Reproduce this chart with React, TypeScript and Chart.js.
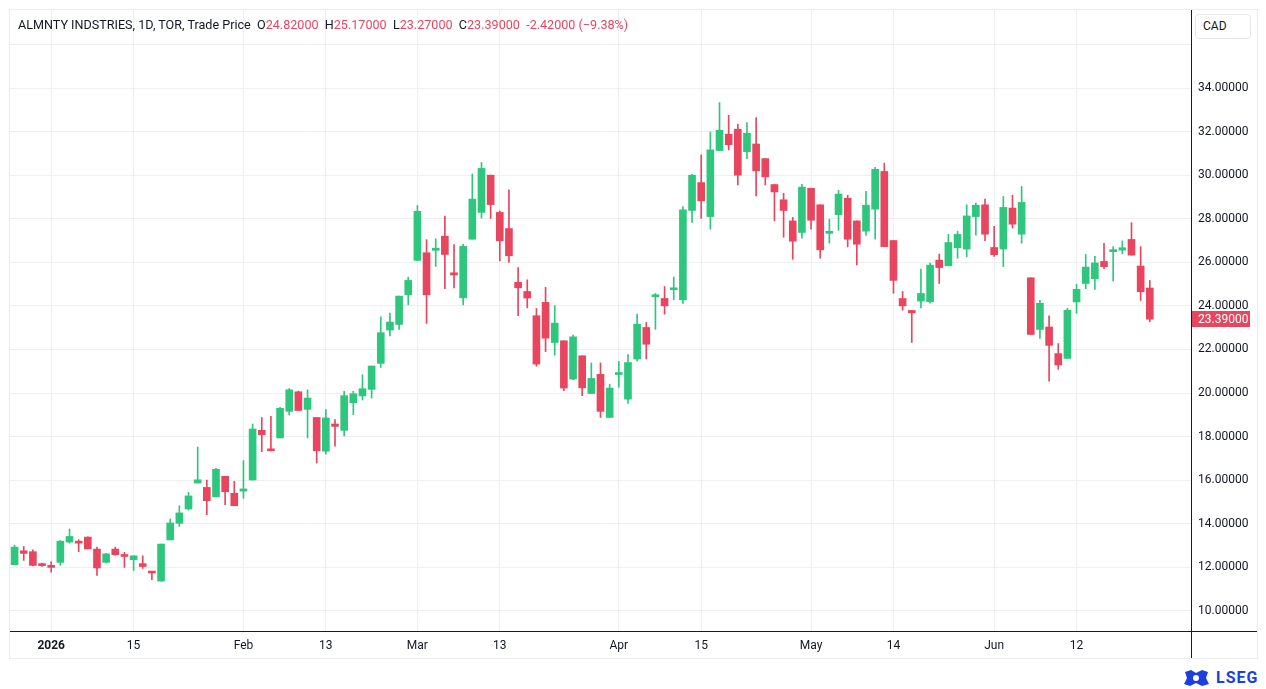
import { useEffect, useRef } from 'react';
import { Chart, registerables } from 'chart.js';

Chart.register(...registerables);

// trading days (TSX), Dec 24 2025 .. Jun 24 2026
const dates = [
  '2025-12-24', '2025-12-29', '2025-12-30', '2025-12-31',
  '2026-01-02', '2026-01-05', '2026-01-06', '2026-01-07', '2026-01-08', '2026-01-09',
  '2026-01-12', '2026-01-13', '2026-01-14', '2026-01-15', '2026-01-16',
  '2026-01-19', '2026-01-20', '2026-01-21', '2026-01-22', '2026-01-23',
  '2026-01-26', '2026-01-27', '2026-01-28', '2026-01-29', '2026-01-30',
  '2026-02-02', '2026-02-03', '2026-02-04', '2026-02-05', '2026-02-06',
  '2026-02-09', '2026-02-10', '2026-02-11', '2026-02-12', '2026-02-13',
  '2026-02-17', '2026-02-18', '2026-02-19', '2026-02-20',
  '2026-02-23', '2026-02-24', '2026-02-25', '2026-02-26', '2026-02-27',
  '2026-03-02', '2026-03-03', '2026-03-04', '2026-03-05', '2026-03-06',
  '2026-03-09', '2026-03-10', '2026-03-11', '2026-03-12', '2026-03-13',
  '2026-03-16', '2026-03-17', '2026-03-18', '2026-03-19', '2026-03-20',
  '2026-03-23', '2026-03-24', '2026-03-25', '2026-03-26', '2026-03-27',
  '2026-03-30', '2026-03-31',
  '2026-04-01', '2026-04-02', '2026-04-06', '2026-04-07', '2026-04-08', '2026-04-09', '2026-04-10',
  '2026-04-13', '2026-04-14', '2026-04-15', '2026-04-16', '2026-04-17',
  '2026-04-20', '2026-04-21', '2026-04-22', '2026-04-23', '2026-04-24',
  '2026-04-27', '2026-04-28', '2026-04-29', '2026-04-30',
  '2026-05-01', '2026-05-04', '2026-05-05', '2026-05-06', '2026-05-07', '2026-05-08',
  '2026-05-11', '2026-05-12', '2026-05-13', '2026-05-14', '2026-05-15',
  '2026-05-19', '2026-05-20', '2026-05-21', '2026-05-22',
  '2026-05-25', '2026-05-26', '2026-05-27', '2026-05-28', '2026-05-29',
  '2026-06-01', '2026-06-02', '2026-06-03', '2026-06-04', '2026-06-05',
  '2026-06-08', '2026-06-09', '2026-06-10', '2026-06-11', '2026-06-12',
  '2026-06-15', '2026-06-16', '2026-06-17', '2026-06-18', '2026-06-19',
  '2026-06-22', '2026-06-23', '2026-06-24',
];

// empty slots to the right of the last bar
const rightSpace = ['', '', '', ''];

const open = [
  12.12, 12.76, 12.72, 12.12, 12.05, 12.23, 13.16, 13.19, 13.39, 12.84,
  12.23, 12.84, 12.55, 12.35, 12.17, 11.80, 11.37, 13.26, 14.02, 14.68,
  15.87, 15.67, 15.24, 16.18, 15.40, 15.50, 16.01, 18.29, 17.42, 17.94,
  19.16, 20.06, 19.25, 18.88, 17.33, 18.58, 18.29, 19.56, 19.87, 20.17,
  21.36, 22.89, 23.15, 24.51, 26.09, 26.44, 26.55, 27.20, 25.52, 24.37,
  27.06, 28.29, 30.00, 28.29, 27.55, 25.08, 24.66, 23.55, 24.16, 22.32,
  22.40, 20.64, 21.71, 19.98, 20.86, 18.88, 20.85, 19.72, 21.56, 23.01,
  24.42, 24.34, 24.74, 24.28, 28.38, 29.66, 28.10, 31.13, 31.88, 32.11,
  31.08, 31.43, 30.76, 29.57, 28.87, 27.90, 27.37, 29.40, 28.64, 27.33,
  28.19, 28.94, 27.90, 27.43, 28.44, 30.17, 27.00, 24.34, 23.79, 24.22,
  24.19, 26.10, 25.84, 26.67, 26.61, 28.10, 28.64, 26.68, 26.61, 28.49,
  27.29, 25.29, 22.92, 23.03, 21.81, 21.59, 24.18, 25.03, 25.25, 26.04,
  26.49, 26.56, 27.05, 25.83, 24.82,
];

const high = [
  13.02, 12.96, 12.81, 12.20, 12.26, 13.23, 13.76, 13.27, 13.40, 12.93,
  12.65, 12.93, 12.69, 12.53, 12.53, 11.80, 13.07, 14.22, 14.83, 15.44,
  17.52, 16.01, 16.55, 16.18, 15.95, 16.90, 18.58, 18.88, 18.93, 19.34,
  20.21, 20.09, 20.15, 18.88, 19.24, 18.78, 20.08, 20.08, 20.84, 21.24,
  23.50, 23.67, 24.45, 25.32, 28.61, 27.04, 27.08, 28.12, 26.81, 26.83,
  30.05, 30.58, 30.00, 28.36, 29.33, 25.76, 25.20, 23.88, 24.85, 24.01,
  22.40, 22.66, 21.71, 21.38, 21.38, 20.41, 21.45, 21.77, 23.62, 23.24,
  24.57, 24.89, 25.33, 28.56, 30.04, 30.93, 31.98, 33.33, 32.75, 32.34,
  32.41, 32.64, 30.76, 29.57, 29.17, 28.06, 29.58, 29.40, 28.64, 27.98,
  29.31, 29.08, 27.90, 29.26, 30.36, 30.55, 27.00, 24.66, 23.79, 25.69,
  25.96, 26.38, 27.28, 27.43, 28.64, 28.72, 28.90, 27.65, 29.02, 29.08,
  29.48, 25.29, 24.25, 23.54, 22.27, 23.89, 24.99, 26.36, 26.27, 26.87,
  26.72, 26.99, 27.82, 26.72, 25.17,
];

const low = [
  12.12, 12.32, 12.07, 12.04, 11.78, 12.09, 13.11, 12.72, 12.85, 11.63,
  12.20, 12.56, 12.00, 11.86, 11.95, 11.43, 11.37, 13.26, 13.88, 14.63,
  15.87, 14.42, 15.24, 14.88, 14.83, 15.17, 16.01, 17.31, 17.35, 17.94,
  18.99, 19.20, 17.94, 16.79, 17.19, 17.56, 18.03, 19.01, 19.68, 19.77,
  21.18, 22.62, 22.92, 24.05, 26.09, 23.20, 25.81, 24.79, 24.82, 24.05,
  27.06, 28.03, 28.01, 26.07, 26.00, 23.55, 23.91, 21.23, 21.90, 21.74,
  20.11, 20.61, 19.88, 19.98, 18.88, 18.88, 20.26, 19.52, 21.48, 21.56,
  22.93, 23.62, 24.28, 24.11, 27.83, 28.02, 27.52, 31.13, 31.16, 29.55,
  30.76, 29.05, 29.55, 27.90, 27.15, 26.14, 27.11, 27.52, 26.19, 26.88,
  27.47, 26.71, 25.88, 27.24, 27.06, 26.72, 24.58, 23.80, 22.32, 23.91,
  24.13, 25.03, 25.84, 26.19, 26.25, 27.25, 26.99, 26.27, 25.80, 27.57,
  26.88, 22.69, 22.51, 20.55, 21.09, 21.59, 23.66, 24.79, 24.76, 25.71,
  25.14, 26.39, 26.33, 24.25, 23.27,
];

const close = [
  12.93, 12.64, 12.09, 12.08, 12.00, 13.20, 13.42, 13.11, 12.85, 11.97,
  12.62, 12.58, 12.50, 12.53, 12.04, 11.74, 13.07, 14.04, 14.50, 15.28,
  16.02, 15.06, 16.50, 15.47, 14.83, 15.60, 18.35, 18.09, 17.35, 19.30,
  20.15, 19.20, 19.77, 17.35, 18.86, 18.47, 19.88, 19.97, 20.20, 21.24,
  22.77, 23.26, 24.45, 25.17, 28.34, 24.51, 26.65, 26.36, 25.42, 26.73,
  28.90, 30.31, 28.65, 26.99, 26.30, 24.83, 24.36, 21.33, 22.52, 23.21,
  20.23, 22.58, 20.24, 20.67, 19.16, 20.23, 20.90, 21.40, 23.16, 22.24,
  24.47, 24.00, 24.81, 28.41, 30.00, 28.82, 31.16, 32.06, 31.40, 30.00,
  31.92, 30.20, 29.92, 29.23, 28.38, 26.97, 29.45, 27.93, 26.57, 27.36,
  29.13, 27.06, 26.83, 28.62, 30.27, 26.72, 25.17, 24.00, 23.68, 24.57,
  25.87, 25.76, 26.91, 27.28, 28.13, 28.62, 27.29, 26.35, 28.52, 27.75,
  28.75, 22.69, 24.12, 22.19, 21.29, 23.80, 24.76, 25.78, 25.97, 25.80,
  26.51, 26.67, 26.33, 24.65, 23.39,
];

// x-axis labels: [date, label]
const xTicks = [
  ['2026-01-02', '2026'], ['2026-01-15', '15'], ['2026-02-02', 'Feb'], ['2026-02-13', '13'],
  ['2026-03-02', 'Mar'], ['2026-03-13', '13'], ['2026-04-01', 'Apr'], ['2026-04-15', '15'],
  ['2026-05-01', 'May'], ['2026-05-14', '14'], ['2026-06-01', 'Jun'], ['2026-06-12', '12'],
];

const yTicks = [10, 12, 14, 16, 18, 20, 22, 24, 26, 28, 30, 32, 34, 36];

const title = 'ALMNTY INDSTRIES, 1D, TOR, Trade Price';
const change = '-2.42000 (\u22129.38%)';

const UP = '#2fc67e';
const DOWN = '#e8465f';
const FONT = 'Roboto, "Noto Sans", sans-serif';

const lastPriceLabel = {
  id: 'lastPriceLabel',
  afterDraw(chart: Chart) {
    const { ctx, chartArea, scales } = chart;
    const last = close[close.length - 1];
    const up = last >= open[open.length - 1];
    const y = Math.round(scales.y.getPixelForValue(last));
    ctx.save();
    ctx.fillStyle = up ? UP : DOWN;
    ctx.fillRect(chartArea.right + 1, y - 8, 58, 16);
    ctx.fillStyle = '#ffffff';
    ctx.font = `12px ${FONT}`;
    ctx.textBaseline = 'middle';
    ctx.textAlign = 'left';
    ctx.fillText(last.toFixed(5), chartArea.right + 7, y + 0.5);
    ctx.restore();
  },
};

function CandleChart() {
  const canvasRef = useRef<HTMLCanvasElement>(null);

  useEffect(() => {
    if (!canvasRef.current) return;
    const colors = close.map((c, i) => (c >= open[i] ? UP : DOWN));
    const tickIdx = xTicks.map(([d]) => dates.indexOf(d));

    const chart = new Chart(canvasRef.current, {
      type: 'bar',
      data: {
        labels: [...dates, ...rightSpace],
        datasets: [
          {
            label: 'wick',
            data: low.map((l, i) => [l, high[i]]),
            backgroundColor: colors,
            barThickness: 1,
            grouped: false,
            borderWidth: 0,
          },
          {
            label: 'body',
            data: open.map((o, i) => [o, close[i]]),
            backgroundColor: colors,
            barThickness: 7,
            minBarLength: 2,
            grouped: false,
            borderWidth: 0,
          },
        ],
      },
      options: {
        animation: false,
        responsive: false,
        layout: { padding: 0 },
        plugins: { legend: { display: false }, tooltip: { enabled: false } },
        scales: {
          x: {
            type: 'category',
            offset: true,
            grid: { offset: false, color: '#efefef', drawTicks: false },
            border: { display: false },
            afterBuildTicks: (scale: any) => {
              scale.ticks = tickIdx.map((v) => ({ value: v }));
            },
            afterFit: (scale: any) => {
              scale.height = 27;
              scale.paddingLeft = 0;
              scale.paddingRight = 0;
            },
            ticks: {
              autoSkip: false,
              maxRotation: 0,
              padding: 8,
              color: '#131722',
              callback: (value: any) => {
                const t = xTicks.find(([d]) => d === dates[value]);
                return t ? t[1] : '';
              },
              font: (ctx: any) => ({
                family: FONT,
                size: 12,
                weight: ctx.tick && ctx.tick.label === '2026' ? 'bold' : 'normal',
              }),
            },
          },
          y: {
            position: 'right',
            min: 9.08,
            max: 37.58,
            grid: { color: '#efefef', drawTicks: false },
            border: { display: false },
            afterBuildTicks: (scale: any) => {
              scale.ticks = yTicks.map((v) => ({ value: v }));
            },
            afterFit: (scale: any) => {
              scale.width = 66;
              scale.paddingTop = 0;
              scale.paddingBottom = 0;
            },
            ticks: {
              padding: 7,
              color: '#131722',
              font: { family: FONT, size: 12 },
              callback: (value: any) => (value === 36 ? '' : Number(value).toFixed(5)),
            },
          },
        },
      },
      plugins: [lastPriceLabel],
    });

    return () => {
      chart.destroy();
    };
  }, []);

  return <canvas ref={canvasRef} width={1247} height={648} style={{ position: 'absolute', left: 2, top: 2 }} />;
}

export default function App() {
  const n = close.length - 1;
  const red = { color: DOWN };
  return (
    <div style={{ position: 'relative', width: 1258, height: 681, fontFamily: FONT, color: '#131722' }}>
      <div style={{ position: 'absolute', left: 1, top: 1, width: 1247, height: 648, border: '1px solid #ececec' }} />
      <CandleChart />
      <div style={{ position: 'absolute', left: 1183, top: 2, width: 1, height: 648, background: '#1a1a1a' }} />
      <div style={{ position: 'absolute', left: 2, top: 623, width: 1247, height: 1, background: '#1a1a1a' }} />
      <div
        style={{
          position: 'absolute', left: 10, top: 9, fontSize: 12.6, lineHeight: '16px', whiteSpace: 'pre',
        }}
      >
        {title}
        {'  O'}<span style={red}>{open[n].toFixed(5)}</span>
        {'  H'}<span style={red}>{high[n].toFixed(5)}</span>
        {'  L'}<span style={red}>{low[n].toFixed(5)}</span>
        {'  C'}<span style={red}>{close[n].toFixed(5)}</span>
        {'  '}<span style={red}>{change}</span>
      </div>
      <div
        style={{
          position: 'absolute', left: 1187, top: 6, width: 47, height: 23, border: '1px solid #e6e6e6',
          borderRadius: 4, background: '#fff', fontSize: 12, lineHeight: '23px', paddingLeft: 7,
          boxSizing: 'content-box',
        }}
      >
        CAD
      </div>
      <div style={{ position: 'absolute', left: 1175, top: 660, display: 'flex', alignItems: 'center', gap: 6 }}>
        <svg width="27" height="18" viewBox="0 0 27 18">
          <path d="M2 3 L8 1 L13 4 L19 1 L25 3 L23 9 L26 15 L19 17 L13 14 L7 17 L1 15 L4 9 Z" fill="#1d3fe0" />
          <circle cx="13" cy="9" r="3" fill="#ffffff" />
        </svg>
        <span style={{ color: '#1d3fe0', fontWeight: 'bold', fontSize: 16, letterSpacing: 1 }}>LSEG</span>
      </div>
    </div>
  );
}
